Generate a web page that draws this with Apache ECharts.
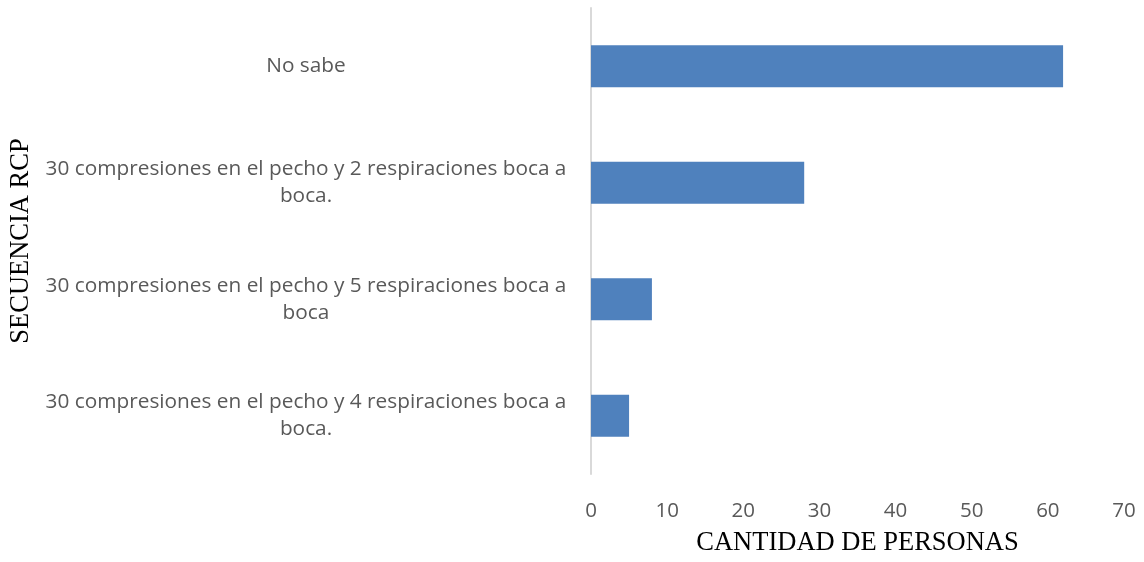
<!DOCTYPE html>
<html>
<head>
<meta charset="utf-8">
<script src="https://cdn.jsdelivr.net/npm/echarts@6/dist/echarts.min.js"></script>
<style>
  html, body { margin: 0; padding: 0; background: #fff; }
  #chart { width: 1144px; height: 562px; }
</style>
</head>
<body>
<div id="chart"></div>
<script>
// categorias (de abajo hacia arriba)
const categories = [
    '30 compresiones en el pecho y 4 respiraciones boca a\nboca.',
    '30 compresiones en el pecho y 5 respiraciones boca a\nboca',
    '30 compresiones en el pecho y 2 respiraciones boca a\nboca.',
    'No sabe'
]
const values = [5, 8, 28, 62]
const xTicks = [0, 10, 20, 30, 40, 50, 60, 70]

const chart = echarts.init(document.getElementById('chart'))

chart.setOption({
    animation: false,
    grid: { left: 591, right: 20, top: 8, bottom: 84 },
    xAxis: {
        type: 'value',
        min: xTicks[0],
        max: xTicks[xTicks.length - 1],
        interval: 10,
        name: 'CANTIDAD DE PERSONAS',
        nameLocation: 'middle',
        nameGap: 56,
        nameTextStyle: { fontFamily: 'Liberation Serif', fontSize: 26.5, color: '#000' },
        axisLine: { show: false },
        axisTick: { show: false },
        splitLine: { show: false },
        axisLabel: { fontFamily: 'Open Sans', fontSize: 20.5, color: '#595959', margin: 27 }
    },
    yAxis: {
        type: 'category',
        data: categories,
        name: 'SECUENCIA RCP',
        nameLocation: 'middle',
        nameGap: 556,
        nameRotate: 90,
        nameTextStyle: { fontFamily: 'Liberation Serif', fontSize: 26.5, color: '#000' },
        axisLine: { show: true, lineStyle: { color: '#d9d9d9', width: 2 } },
        axisTick: { show: false },
        axisLabel: {
            fontFamily: 'Open Sans', fontSize: 20.8, color: '#595959',
            align: 'center', margin: 285, lineHeight: 27,
            padding: [8, 0, 0, 0]
        }
    },
    series: [{
        type: 'bar',
        data: values,
        barWidth: '36%',
        itemStyle: { color: '#4f81bd' }
    }]
})
</script>
</body>
</html>
